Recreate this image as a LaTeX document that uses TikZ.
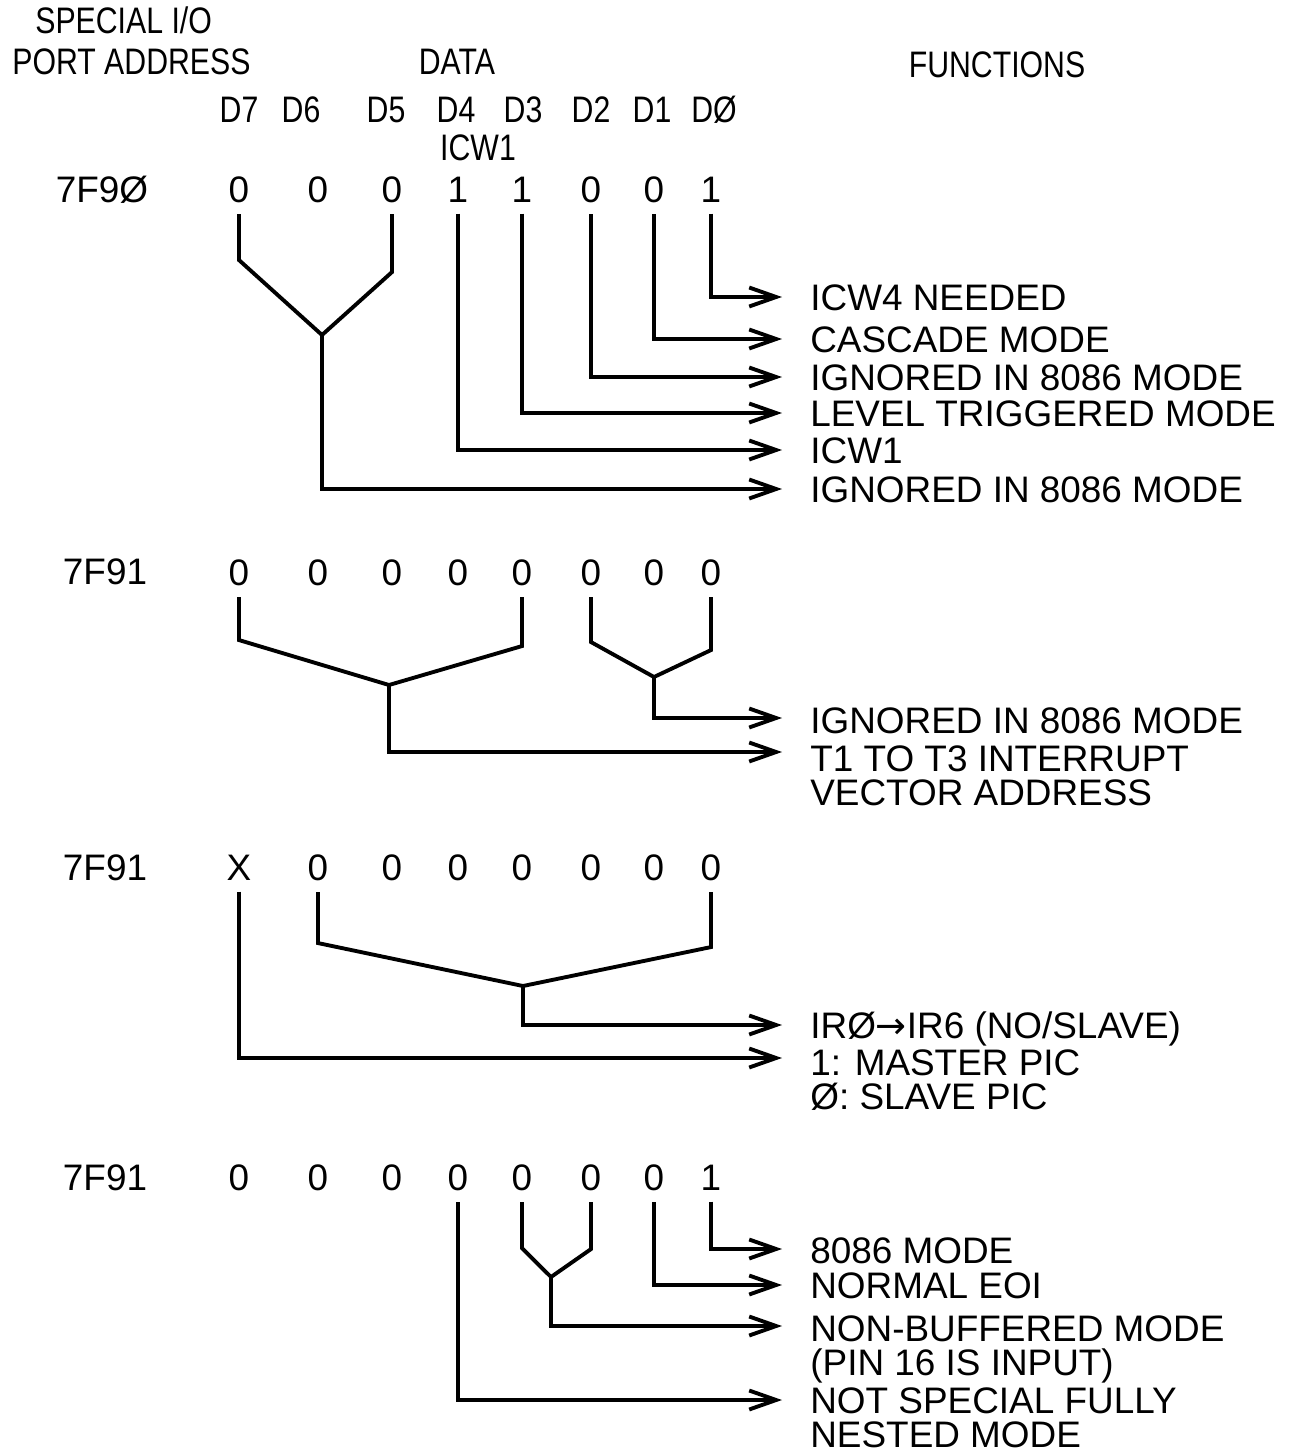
\documentclass[tikz,border=0pt]{standalone}
\usepackage{fontspec}
\setmainfont{Liberation Sans}
\newfontfamily\narrowfont[FakeStretch=0.82]{Liberation Sans}
\newfontfamily\symfont{DejaVu Sans}
\usetikzlibrary{arrows.meta, calc}
\tikzset{
  font=\fontsize{21}{21}\selectfont,
  hdr/.style={font=\narrowfont\fontsize{21}{21}\selectfont, inner sep=0pt},
  addr/.style={inner sep=0pt},
  bit/.style={inner sep=0pt, outer ysep=0.22cm},
  func/.style={inner sep=0pt, anchor=north west, align=left,
               font=\fontsize{21}{19.5}\selectfont},
  wire/.style={line width=2.2pt},
  flow/.style={wire, -{Straight Barb[length=5.4mm, width=3.8mm]}},
}
\begin{document}
\begin{tikzpicture}[x=0.02cm, y=-0.02cm]
\useasboundingbox (0,0) rectangle (1297,1454);

% --- column headings ---
\node[hdr, anchor=west] (special) at (35,20) {SPECIAL I/O};
\node[hdr, anchor=west] (port)    at (12,62) {PORT ADDRESS};
\node[hdr] (data)  at (457,62)  {DATA};
\node[hdr] (funcs) at (997,65)  {FUNCTIONS};
\node[hdr] (hd7) at (239,110) {D7};
\node[hdr] (hd6) at (301,110) {D6};
\node[hdr] (hd5) at (386,110) {D5};
\node[hdr] (hd4) at (456,110) {D4};
\node[hdr] (hd3) at (523,110) {D3};
\node[hdr] (hd2) at (591,110) {D2};
\node[hdr] (hd1) at (652,110) {D1};
\node[hdr] (hd0) at (714,110) {DØ};
\node[hdr] (icw) at (478,148) {ICW1};

% --- port addresses ---
\node[addr] (portA) at (102,190)  {7F9Ø};
\node[addr] (portB) at (105,572)  {7F91};
\node[addr] (portC) at (105,868)  {7F91};
\node[addr] (portD) at (105,1178) {7F91};

% --- data bits, one column per bit ---
\foreach \n/\x/\va/\vb/\vc/\vd in {7/239/0/0/X/0, 6/318/0/0/0/0, 5/392/0/0/0/0,
    4/458/1/0/0/0, 3/522/1/0/0/0, 2/591/0/0/0/0, 1/654/0/0/0/0, 0/711/1/0/0/1}{
  \node[bit] (a\n) at (\x,190)  {\va};
  \node[bit] (b\n) at (\x,573)  {\vb};
  \node[bit] (c\n) at (\x,868)  {\vc};
  \node[bit] (d\n) at (\x,1178) {\vd};
}

% --- functions ---
\node[func] (needed)  at (810,284)  {ICW4 NEEDED};
\node[func] (cascade) at (810,326)  {CASCADE MODE};
\node[func] (ignA)    at (810,364)  {IGNORED IN 8086 MODE};
\node[func] (level)   at (810,400)  {LEVEL TRIGGERED MODE};
\node[func] (icwone)  at (810,437)  {ICW1};
\node[func] (ignB)    at (810,476)  {IGNORED IN 8086 MODE};

\node[func] (ignC)    at (810,707)  {IGNORED IN 8086 MODE};
\node[func] (vector)  at (810,745)  {T1 TO T3 INTERRUPT\\VECTOR ADDRESS};

\node[func] (irq)     at (810,1011) {IRØ{\symfont →}IR6 (NO/SLAVE)};
\node[func] (master)  at (810,1049) {1: MASTER PIC\\Ø: SLAVE PIC};

\node[func] (mode)    at (810,1237) {8086 MODE};
\node[func] (eoi)     at (810,1272) {NORMAL EOI};
\node[func] (buffer)  at (810,1315) {NON-BUFFERED MODE\\(PIN 16 IS INPUT)};
\node[func] (nested)  at (810,1387) {NOT SPECIAL FULLY\\NESTED MODE};

% --- 7F90 ---
\coordinate (forkA) at (322,335);
\draw[wire] (a7.south) -- ++(0,46) -- (forkA) -- ($(a5.south)+(0,58)$) -- (a5.south);
\draw[flow] (a0.south) |- ($(needed.north west)+(-28,13)$);
\draw[flow] (a1.south) |- ($(cascade.north west)+(-28,13)$);
\draw[flow] (a2.south) |- ($(ignA.north west)+(-28,13)$);
\draw[flow] (a3.south) |- ($(level.north west)+(-28,13)$);
\draw[flow] (a4.south) |- ($(icwone.north west)+(-28,13)$);
\draw[flow] (forkA) |- ($(ignB.north west)+(-28,13)$);

% --- 7F91, ICW2 ---
\coordinate (forkB) at (389,685);
\coordinate (forkC) at (654,677);
\draw[wire] (b7.south) -- ++(0,43) -- (forkB) -- ($(b3.south)+(0,49)$) -- (b3.south);
\draw[wire] (b2.south) -- ++(0,45) -- (forkC) -- ($(b0.south)+(0,53)$) -- (b0.south);
\draw[flow] (forkC) |- ($(ignC.north west)+(-28,11)$);
\draw[flow] (forkB) |- ($(vector.north west)+(-28,7)$);

% --- 7F91, ICW3 ---
\coordinate (forkD) at (523,986);
\draw[wire] (c6.south) -- ++(0,51) -- (forkD) -- ($(c0.south)+(0,55)$) -- (c0.south);
\draw[flow] (forkD) |- ($(irq.north west)+(-28,14)$);
\draw[flow] (c7.south) |- ($(master.north west)+(-28,9)$);

% --- 7F91, ICW4 ---
\coordinate (forkE) at (551,1277);
\draw[wire] (d3.south) -- ++(0,46) -- (forkE) -- ($(d2.south)+(0,47)$) -- (d2.south);
\draw[flow] (d0.south) |- ($(mode.north west)+(-28,12)$);
\draw[flow] (d1.south) |- ($(eoi.north west)+(-28,13)$);
\draw[flow] (forkE) |- ($(buffer.north west)+(-28,11)$);
\draw[flow] (d4.south) |- ($(nested.north west)+(-28,13)$);

\end{tikzpicture}
\end{document}
